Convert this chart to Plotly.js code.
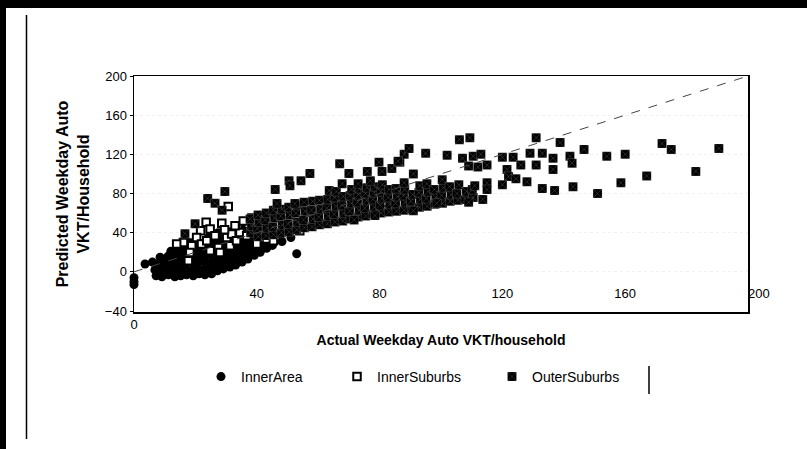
<!DOCTYPE html>
<html>
<head>
<meta charset="utf-8">
<script src="https://cdn.plot.ly/plotly-3.0.1.min.js"></script>
<style>
html,body{margin:0;padding:0;background:#fff;}
#chart{width:807px;height:449px;}
</style>
</head>
<body>
<div id="chart"></div>
<script>
// ---- Data ----
const seriesNames = ["InnerArea", "InnerSuburbs", "OuterSuburbs"];

const innerAreaX = [0, 0, 0, 3.6, 6, 8.5, 53,
  7.2, 6.8, 7.5,
  9.1, 8.7, 9.4, 9.8,
  11.2, 10.8, 11.5, 11.1, 12,
  13.3, 12.9, 13.4, 13.1, 13.6, 14,
  15.2, 14.8, 15.5, 15.1, 15.7, 16,
  17.1, 16.8, 17.4, 17.2, 17.7, 18,
  19.3, 18.9, 19.5, 19.1, 19.6, 19.8, 20.2,
  21.2, 20.8, 21.5, 21.1, 21.7, 22,
  23.1, 22.9, 23.4, 23.2, 23.6, 23.9, 24.2,
  25.3, 24.8, 25.5, 25.1, 25.7, 26,
  27.2, 26.9, 27.5, 27.1, 27.7, 28, 27.4,
  29.1, 28.8, 29.4, 29.2, 29.6, 30,
  31.2, 30.9, 31.5, 31.1, 31.8, 31.4,
  33.1, 32.8, 33.4, 33.2, 33.7, 33.3,
  35.2, 34.9, 35.4, 35.1, 35.8, 36.1,
  37.1, 36.8, 37.4, 37.2, 37.9,
  39.2, 38.9, 39.5, 39.1, 39.8,
  41.1, 40.8, 41.4, 41.2,
  43.2, 42.9, 43.5,
  45.1, 44.8, 45.4,
  48.2, 47.8, 48.5,
  51.1, 50.8];
const innerAreaY = [-6, -10, -13, 8, 10, 15, 18.5,
  -4, 2, 8,
  -5, 1, 6, 12,
  -3, 3, 9, 16, 21,
  -5, 1, 7, 13, 19, 25,
  -4, 2, 8, 14, 21, 27,
  -3, 3, 10, 16, 22, 30,
  -4, 2, 8, 15, 21, 27, 33,
  -2, 4, 11, 17, 23, 29,
  -3, 3, 9, 16, 22, 28, 35,
  -2, 5, 11, 18, 24, 31,
  1, 7, 14, 20, 26, 33, 40,
  3, 9, 16, 22, 28, 36,
  5, 12, 18, 24, 31, 41,
  7, 14, 20, 27, 35, 44,
  10, 16, 23, 30, 38, 46,
  13, 19, 26, 33, 44,
  17, 24, 30, 37, 47,
  20, 27, 34, 42,
  24, 31, 38,
  27, 34, 41,
  31, 38, 45,
  35, 42];

const innerSuburbsX = [30.7, 23.5, 28.6, 21.7, 16.1, 13.9, 24.8, 26.4, 20.4, 18.8,
  22, 23.7, 30.2, 31.8, 27.5, 24.8, 28, 18.2, 31.3, 33.4,
  34.5, 36.7, 40, 37.2, 32.9, 40, 17.7, 42.1, 43.2, 49.2,
  45.4, 43.2, 54, 56.7, 63.8, 81.8, 50.8, 35.6, 38.4, 29.5];
const innerSuburbsY = [66.7, 50.6, 49.6, 42, 30, 28.4, 43.8, 36.9, 35.2, 26.7,
  28.4, 31.8, 35.2, 38.7, 24.9, 21.5, 19.8, 19.8, 26.7, 31.8,
  40.3, 36.9, 42, 48.9, 47.2, 28.4, 11.3, 48.9, 33.5, 45.4,
  31.8, 38.7, 42, 60.8, 64.3, 71, 52.3, 52, 55, 43];

const outerSuburbsX = [
  38, 38.3, 37.8,
  40.5, 40.2, 40.8, 40.4,
  43, 43.3, 42.8, 43.1,
  45.5, 45.2, 45.8, 45.4,
  48, 48.3, 47.8, 48.2,
  50.5, 50.2, 50.8, 50.4,
  53, 53.3, 52.8, 53.1,
  55.5, 55.2, 55.8, 55.4,
  58, 58.3, 57.8, 58.2,
  60.5, 60.2, 60.8, 60.4,
  63, 63.3, 62.8, 63.1, 63.6,
  65.5, 65.2, 65.8, 65.4, 65.9,
  68, 68.3, 67.8, 68.2,
  70.5, 70.2, 70.8, 70.4, 70.9,
  73, 73.3, 72.8, 73.1, 73.5,
  75.5, 75.2, 75.8, 75.4, 75.9,
  78, 78.3, 77.8, 78.2, 78.5,
  80.5, 80.2, 80.8, 80.4, 80.9,
  83, 83.3, 82.8, 83.1,
  85.5, 85.2, 85.8, 85.4,
  88, 88.3, 87.8, 88.2,
  90.5, 90.2, 90.8,
  93, 93.3, 92.8, 93.1,
  95.5, 95.2, 95.8, 95.4,
  98, 98.3, 97.8,
  100.5, 100.2, 100.8, 100.4,
  103, 103.3, 102.8,
  105.5, 105.2, 105.8,
  108, 108.3,
  110.5, 110.2,
  71.7, 78.5, 91, 98.6, 109, 113.6,
  29.6, 24, 26.4, 28.7, 19.9, 16.6,
  46, 46.6, 50.5, 50.8, 54.4, 57.3, 52.4, 67, 70, 76,
  79.8, 80.8, 84, 86.6, 88, 89.6, 86, 67.8, 73, 77,
  88, 91, 95, 102, 106, 109.4, 107, 110.5, 109, 112,
  113, 111, 115, 115, 115, 120, 123.5, 121.5, 122, 124.4,
  120, 126, 128, 129, 131, 131, 133, 133, 136.5, 136.5,
  137, 138.8, 142, 142.7, 143, 146.6, 151, 154, 158.6, 160,
  167, 172, 175, 183, 190.5];
const outerSuburbsY = [
  40, 47, 54,
  36, 44, 51, 58,
  37, 45, 53, 60,
  38, 46, 55, 63,
  40, 48, 57, 64,
  41, 49, 58, 66,
  43, 51, 60, 68,
  45, 53, 62, 71,
  46, 54, 63, 72,
  48, 56, 64, 73,
  49, 57, 65, 74, 83,
  51, 59, 67, 76, 82,
  52, 60, 68, 77,
  54, 62, 70, 78, 84,
  56, 63, 71, 79, 85,
  57, 65, 73, 80, 86,
  59, 66, 74, 81, 87,
  60, 68, 75, 82, 89,
  61, 69, 76, 84,
  62, 70, 77, 85,
  63, 71, 78, 84,
  64, 72, 79,
  66, 74, 81, 88,
  67, 75, 82, 90,
  69, 76, 84,
  70, 78, 86, 94,
  72, 79, 87,
  73, 80, 89,
  74, 82,
  76, 84,
  53, 57.5, 62.5, 70, 71, 74,
  82, 75, 70, 63, 49, 39,
  84, 69.7, 93, 88, 93, 100.5, 69.7, 110.5, 100.5, 102.6,
  112, 102.6, 105.6, 112, 120, 126, 113, 90, 90, 93,
  91, 100, 121, 119, 135, 137, 116, 118, 108, 107,
  120, 88, 109, 91, 84, 117, 117, 104.6, 97.4, 95,
  89, 109, 92, 121, 137, 109, 121, 85, 116, 104.6,
  83, 132, 118, 111, 87, 125, 80, 118, 91, 120,
  98, 131, 125, 102.6, 126];

const identityX = [0, 200];
const identityY = [0, 200];

const yTickVals = [-40, 0, 40, 80, 120, 160, 200];
const xTickValsInner = [40, 80, 120, 160];
const xTickValsEnd = [200];

const FONT = "Arial, 'Liberation Sans', Helvetica, sans-serif";

const traces = [
  {
    type: "scatter", mode: "markers", name: seriesNames[0],
    x: innerAreaX, y: innerAreaY, cliponaxis: false,
    marker: {symbol: "circle", size: 9, color: "#000", line: {width: 0}},
    legend: "legend"
  },
  {
    type: "scatter", mode: "markers", name: seriesNames[1],
    x: innerSuburbsX, y: innerSuburbsY,
    marker: {symbol: "square", size: 7.5, color: "#fff", line: {width: 2, color: "#000"}},
    legend: "legend2"
  },
  {
    type: "scatter", mode: "markers", name: seriesNames[2],
    x: outerSuburbsX, y: outerSuburbsY,
    marker: {symbol: "square-x", size: 9, color: "#000", line: {width: 0.4, color: "rgba(255,255,255,0.4)"}},
    legend: "legend3"
  },
  {
    type: "scatter", mode: "lines", x: identityX, y: identityY,
    showlegend: false, hoverinfo: "skip",
    line: {color: "#444", width: 1, dash: "dash"}
  },
  // invisible traces so the extra tick-label axes are drawn
  {type: "scatter", mode: "markers", x: [], y: [], xaxis: "x2", showlegend: false},
  {type: "scatter", mode: "markers", x: [], y: [], xaxis: "x3", showlegend: false}
];

// helper to convert page pixels to paper fractions for decorations
const L = 134, R = 59, T = 76, B = 137, W = 807, H = 449;
const pw = W - L - R, ph = H - T - B;
const px = v => (v - L) / pw;
const py = v => (H - B - v) / ph;

const legendCommon = {orientation: "h", font: {family: FONT, size: 14, color: "#000"},
  bgcolor: "rgba(0,0,0,0)", xanchor: "left", yanchor: "top", itemclick: false};

const layout = {
  width: W, height: H,
  margin: {l: L, r: R, t: T, b: B, pad: 0},
  paper_bgcolor: "#fff", plot_bgcolor: "#fff",
  font: {family: FONT, size: 13, color: "#000"},
  xaxis: {
    range: [0, 200], tickvals: [0], ticktext: ["0"],
    showline: true, mirror: true, linecolor: "#000", linewidth: 1.5,
    showgrid: false, zeroline: false, ticks: "",
    tickfont: {family: FONT, size: 13, color: "#000"},
    title: {text: "Actual Weekday Auto VKT/household", standoff: 4,
      font: {family: FONT, size: 14, color: "#000", weight: "bold"}}
  },
  xaxis2: {
    overlaying: "x", anchor: "free", position: py(284), side: "bottom",
    range: [0, 200], tickvals: xTickValsInner,
    showline: false, showgrid: false, zeroline: false, ticks: "",
    tickfont: {family: FONT, size: 13, color: "#000"}
  },
  xaxis3: {
    overlaying: "x", anchor: "free", position: py(284), side: "bottom",
    range: [0, 200], tickvals: xTickValsEnd, ticklabelposition: "outside right",
    showline: false, showgrid: false, zeroline: false, ticks: "",
    tickfont: {family: FONT, size: 13, color: "#000"}
  },
  yaxis: {
    range: [-41, 200], tickvals: yTickVals,
    showline: true, mirror: true, linecolor: "#000", linewidth: 1.5,
    showgrid: true, gridcolor: "#f0f0f0", griddash: "dot", gridwidth: 1,
    zeroline: false, ticks: "outside", ticklen: 3, tickcolor: "#000",
    tickfont: {family: FONT, size: 13, color: "#000"},
    title: {text: "Predicted Weekday Auto<br>VKT/Household", standoff: 11,
      font: {family: FONT, size: 16, color: "#000", weight: "bold"}}
  },
  legend: Object.assign({}, legendCommon, {x: px(201), y: py(361)}),
  legend2: Object.assign({}, legendCommon, {x: px(337), y: py(361)}),
  legend3: Object.assign({}, legendCommon, {x: px(492), y: py(361)}),
  shapes: [
    {type: "rect", xref: "paper", yref: "paper", x0: px(-5), x1: px(812), y0: py(8), y1: py(-5),
      fillcolor: "#000", line: {width: 0}},
    {type: "rect", xref: "paper", yref: "paper", x0: px(-2), x1: px(6), y0: py(452), y1: py(-2),
      fillcolor: "#000", line: {width: 0}},
    {type: "line", xref: "paper", yref: "paper", x0: px(26.5), x1: px(26.5), y0: py(15), y1: py(439),
      line: {color: "#000", width: 1.5}},
    {type: "line", xref: "paper", yref: "paper", x0: px(649), x1: px(649), y0: py(366), y1: py(394),
      line: {color: "#000", width: 1.5}}
  ],
  showlegend: true
};

Plotly.newPlot("chart", traces, layout, {displayModeBar: false, staticPlot: true});
</script>
</body>
</html>
